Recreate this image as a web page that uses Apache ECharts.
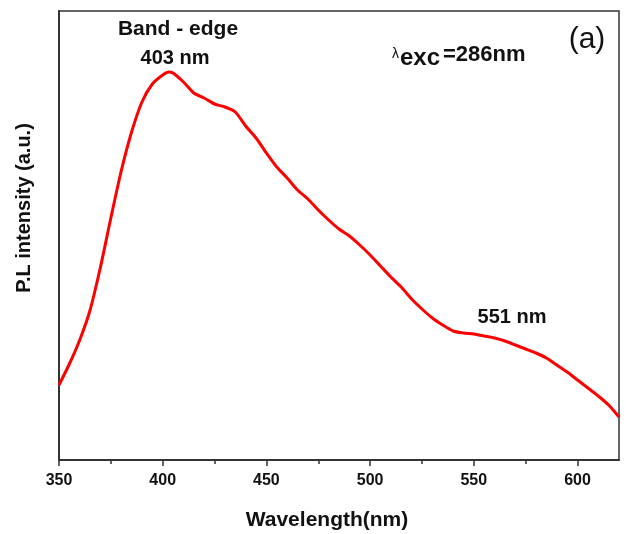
<!DOCTYPE html>
<html>
<head>
<meta charset="utf-8">
<script src="https://cdn.jsdelivr.net/npm/echarts@6/dist/echarts.min.js"></script>
<style>
  html, body { margin: 0; padding: 0; background: #fff; }
  #chart { width: 626px; height: 534px; }
</style>
</head>
<body>
<div id="chart"></div>
<script>
// PL spectrum, every 5 nm (intensity in arbitrary units)
const wavelength = [350, 355, 360, 365, 370, 375, 380, 385, 390, 395, 400, 403, 405, 410, 415, 420, 425, 430, 435, 440, 445, 450, 455, 460, 465, 470, 475, 480, 485, 490, 495, 500, 505, 510, 515, 520, 525, 530, 535, 540, 545, 550, 555, 560, 565, 570, 575, 580, 585, 590, 595, 600, 605, 610, 615, 620];
const intensity = [75, 96, 120, 150, 193, 242, 289, 328, 358, 376, 385, 388, 387, 378, 367, 362, 356, 353, 348, 334, 322, 307, 293, 282, 270, 261, 250, 240, 231, 224, 215, 205, 194, 183, 173, 161, 151, 142, 135, 129, 127, 126, 124, 122, 119, 115, 111, 107, 102, 95, 88, 80, 72, 64, 55, 43];
const majorTicks = [350, 400, 450, 500, 550, 600];
const minorTicks = [375, 425, 475, 525, 575];

const font = "'Liberation Sans', Arial, sans-serif";
const axisColor = "#333";
const textColor = "#111";

const chart = echarts.init(document.getElementById("chart"));

function label(text, x, y, size, extra) {
  return {
    type: "text",
    x: x,
    y: y,
    style: Object.assign({
      text: text,
      font: "bold " + size + "px " + font,
      fill: textColor,
      align: "center",
      verticalAlign: "middle",
    }, extra || {}),
  };
}

chart.setOption({
  animation: false,
  grid: {
    left: 59,
    right: 7,
    top: 11,
    bottom: 74,
    show: true,
    borderColor: axisColor,
    borderWidth: 1.5,
  },
  xAxis: [
    {
      type: "value",
      min: 350,
      max: 620,
      axisLine: { lineStyle: { color: axisColor, width: 2 } },
      splitLine: { show: false },
      axisTick: {
        customValues: majorTicks,
        length: 6,
        lineStyle: { color: axisColor, width: 1.5 },
      },
      axisLabel: {
        customValues: majorTicks,
        margin: 13,
        color: textColor,
        fontFamily: font,
        fontWeight: "bold",
        fontSize: 16,
      },
    },
    {
      // minor ticks only
      type: "value",
      position: "bottom",
      min: 350,
      max: 620,
      axisLine: { show: false },
      splitLine: { show: false },
      axisTick: {
        customValues: minorTicks,
        length: 4,
        lineStyle: { color: axisColor, width: 1.5 },
      },
      axisLabel: { show: false },
    },
  ],
  yAxis: {
    type: "value",
    min: 0,
    max: 449,
    axisLine: { show: true, lineStyle: { color: axisColor, width: 2 } },
    axisTick: { show: false },
    axisLabel: { show: false },
    splitLine: { show: false },
  },
  series: [
    {
      type: "line",
      data: wavelength.map((w, i) => [w, intensity[i]]),
      showSymbol: false,
      smooth: 0.25,
      lineStyle: { color: "#ff0000", width: 3 },
    },
  ],
  graphic: [
    label("Wavelength(nm)", 327, 520, 21),
    Object.assign(label("P.L intensity (a.u.)", 24, 208, 20), { rotation: Math.PI / 2 }),
    label("Band - edge", 178, 29, 21),
    label("403 nm", 175, 58, 20),
    label("551 nm", 512, 317, 20),
    label("λ", 392, 54, 14, { font: "14px " + font, align: "left" }),
    label("exc", 400, 58, 24, { align: "left" }),
    label("=286nm", 443, 55, 22, { align: "left" }),
    label("(a)", 587, 40, 30, { font: "30px " + font }),
  ],
});
</script>
</body>
</html>
